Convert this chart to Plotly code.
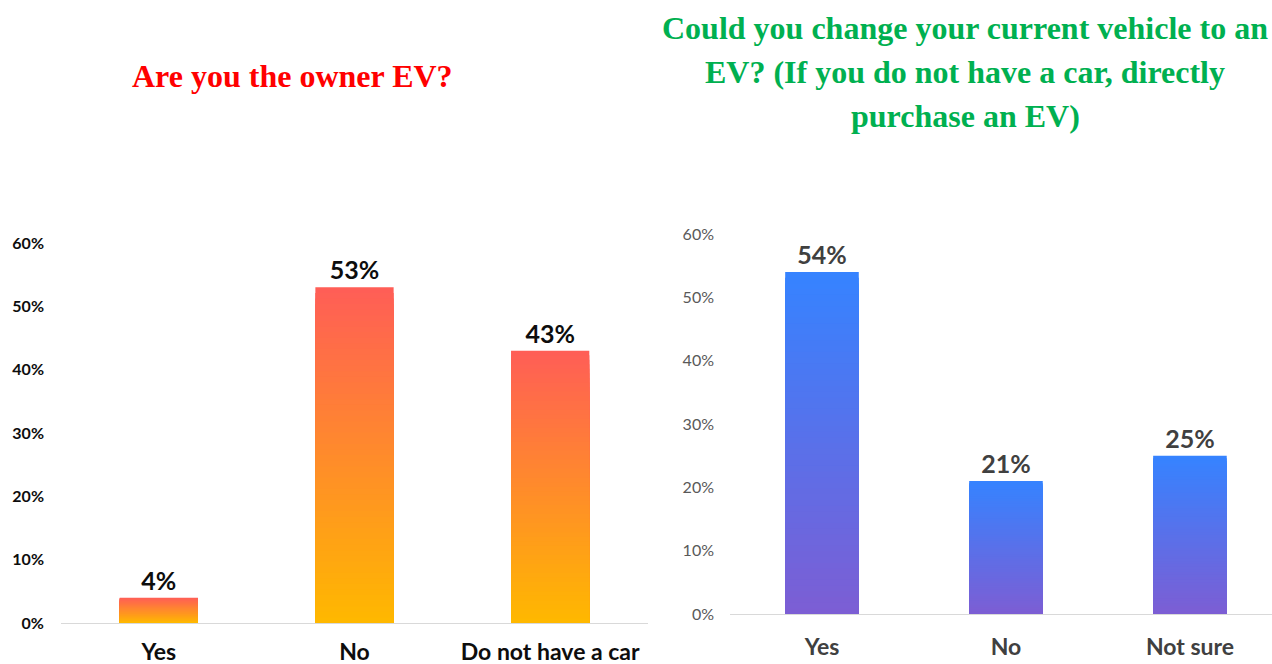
import plotly.graph_objects as go

# ---- data ----
left_categories = ["Yes", "No", "Do not have a car"]
left_values = [0.04, 0.53, 0.43]
left_labels = ["4%", "53%", "43%"]

right_categories = ["Yes", "No", "Not sure"]
right_values = [0.54, 0.21, 0.25]
right_labels = ["54%", "21%", "25%"]

y_ticks = [0, 0.1, 0.2, 0.3, 0.4, 0.5, 0.6]

left_title = "Are you the owner EV?"
right_title_lines = ["Could you change your current vehicle to an",
                     "EV? (If you do not have a car, directly",
                     "purchase an EV)"]

# gradient colours (bottom -> top)
left_bottom, left_top = (255, 184, 0), (255, 94, 86)
right_bottom, right_top = (124, 94, 212), (54, 131, 255)

N = 60


def mix(c0, c1, t):
    return "rgb(%d,%d,%d)" % tuple(round(a + (b - a) * t) for a, b in zip(c0, c1))


fig = go.Figure()


def add_gradient_bars(cats, vals, labels, c_bottom, c_top, xa, ya, textcolor):
    for k in range(N, 0, -1):
        frac = k / N
        t = (k - 1) / (N - 1)
        top = k == N
        fig.add_trace(go.Bar(
            x=cats,
            y=[v * frac for v in vals],
            width=0.4,
            marker=dict(color=mix(c_bottom, c_top, t), line=dict(width=0)),
            xaxis=xa, yaxis=ya,
            showlegend=False,
            text=labels if top else None,
            textposition="outside" if top else None,
            textfont=dict(family="Lato", size=25, color=textcolor, weight="bold"),
            cliponaxis=False,
            hoverinfo="x+y" if top else "skip",
        ))


add_gradient_bars(left_categories, left_values, left_labels, left_bottom, left_top,
                  "x", "y", "#0d0d0d")
add_gradient_bars(right_categories, right_values, right_labels, right_bottom, right_top,
                  "x2", "y2", "#404040")

W, H = 1272, 664

title_annotations = [
    dict(text=left_title, xref="paper", yref="paper",
         x=292 / W, y=(H - 76) / H, xanchor="center", yanchor="middle",
         showarrow=False,
         font=dict(family="Liberation Serif", size=32, color="#ff0000", weight="bold")),
]
for i, line in enumerate(right_title_lines):
    title_annotations.append(
        dict(text=line, xref="paper", yref="paper",
             x=965 / W, y=(H - (28 + 44 * i)) / H, xanchor="center", yanchor="middle",
             showarrow=False,
             font=dict(family="Liberation Serif", size=32, color="#00b050", weight="bold")))

fig.update_layout(
    template="none",
    width=W, height=H,
    margin=dict(l=0, r=0, t=0, b=0, pad=0, autoexpand=False),
    paper_bgcolor="white", plot_bgcolor="white",
    barmode="overlay",
    font=dict(family="Lato"),
    xaxis=dict(domain=[61 / W, 648 / W], anchor="y", type="category",
               range=[-0.5, 2.5], showline=True, linecolor="#d9d9d9", linewidth=1,
               showgrid=False, zeroline=False, ticks="", ticklabelstandoff=8,
               automargin=False,
               tickfont=dict(family="Lato", size=23, color="#0d0d0d", weight="bold"),
               fixedrange=True),
    yaxis=dict(domain=[(H - 623) / H, (H - 243) / H], anchor="x",
               range=[0, 0.6], tickvals=y_ticks, tickformat=".0%",
               showgrid=False, zeroline=False, showline=False, ticks="",
               ticklabelstandoff=16, automargin=False,
               tickfont=dict(family="Lato", size=16, color="#0d0d0d", weight="bold"),
               fixedrange=True),
    xaxis2=dict(domain=[730 / W, 1.0], anchor="y2", type="category",
                range=[-0.5, 2.446], showline=True, linecolor="#d9d9d9", linewidth=1,
                showgrid=False, zeroline=False, ticks="", ticklabelstandoff=12,
                automargin=False,
                tickfont=dict(family="Lato", size=23, color="#404040", weight="bold"),
                fixedrange=True),
    yaxis2=dict(domain=[(H - 614) / H, (H - 234) / H], anchor="x2",
                range=[0, 0.6], tickvals=y_ticks, tickformat=".0%",
                showgrid=False, zeroline=False, showline=False, ticks="",
                ticklabelstandoff=15, automargin=False,
                tickfont=dict(family="Lato", size=16, color="#595959"),
                fixedrange=True),
    annotations=title_annotations,
)

fig.write_html("out.html")
